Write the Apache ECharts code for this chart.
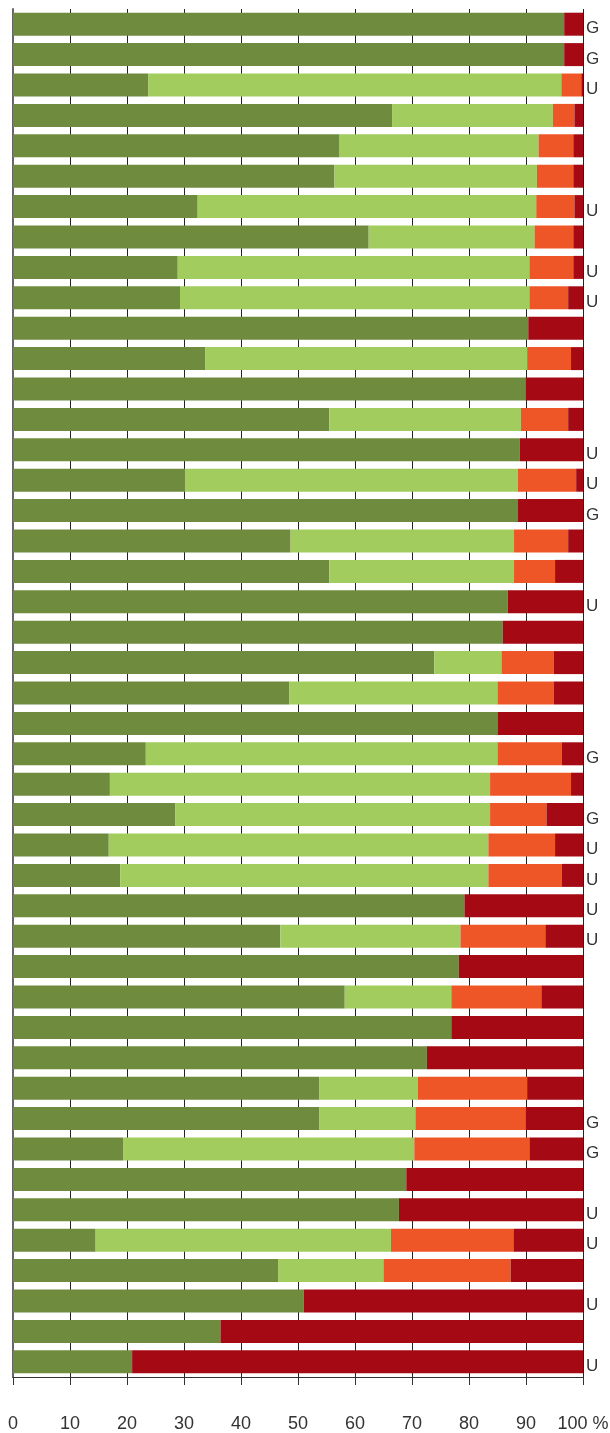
<!DOCTYPE html>
<html>
<head>
<meta charset="utf-8">
<script src="https://cdn.jsdelivr.net/npm/echarts@6/dist/echarts.min.js"></script>
<style>
html,body{margin:0;padding:0;background:#fff;}
#chart{width:610px;height:1433px;}
</style>
</head>
<body>
<div id="chart"></div>
<script>
var categories = ['1','2','3','4','5','6','7','8','9','10','11','12','13','14','15','16','17','18','19','20','21','22','23','24','25','26','27','28','29','30','31','32','33','34','35','36','37','38','39','40','41','42','43','44','45'];
var flags = ['G','G','U','','','','U','','U','U','','','','','U','U','G','','','U','','','','','G','','G','U','U','U','U','','','','','','G','G','','U','U','','U','','U'];
var seriesDarkGreen  = [96.7,96.7,23.7,66.5,57.3,56.4,32.4,62.4,28.9,29.3,90.4,33.7,89.9,55.5,88.9,30.1,88.6,48.7,55.5,86.8,85.9,73.9,48.5,85.0,23.3,17.0,28.5,16.8,18.8,79.2,46.9,78.2,58.2,76.9,72.6,53.7,53.7,19.3,69.0,67.7,14.5,46.5,51.0,36.4,20.9];
var seriesLightGreen = [0,0,72.5,28.2,34.9,35.5,59.4,29.1,61.7,61.3,0,56.5,0,33.6,0,58.5,0,39.2,32.4,0,0,11.8,36.5,0,61.7,66.7,55.2,66.6,64.6,0,31.6,0,18.7,0,0,17.3,16.9,51.1,0,0,51.8,18.5,0,0,0];
var seriesOrange     = [0,0,3.5,3.8,6.1,6.4,6.7,6.8,7.7,6.8,0,7.7,0,8.3,0,10.2,0,9.5,7.2,0,0,9.2,9.9,0,11.3,14.2,9.9,11.7,12.9,0,14.9,0,15.8,0,0,19.2,19.3,20.2,0,0,21.5,22.3,0,0,0];
var seriesDarkRed    = [3.3,3.3,0.3,1.5,1.7,1.7,1.5,1.7,1.7,2.6,9.6,2.1,10.1,2.6,11.1,1.2,11.4,2.6,4.9,13.2,14.1,5.1,5.1,15.0,3.7,2.1,6.4,4.9,3.7,20.8,6.6,21.8,7.3,23.1,27.4,9.8,10.1,9.4,31.0,32.3,12.2,12.7,49.0,63.6,79.1];
var xTicks = [0,10,20,30,40,50,60,70,80,90,100];

var colors = ['#6f8b3d','#a3cc5f','#ee5627','#a40914'];
var chart = echarts.init(document.getElementById('chart'), null, {renderer:'canvas'});
function mk(name, data, color){
  return {name:name, type:'bar', stack:'total', data:data, barWidth:23,
    itemStyle:{color:color}, emphasis:{disabled:true}, silent:true, animation:false};
}
chart.setOption({
  animation:false,
  grid:{left:13, right:27, top:9, bottom:56, containLabel:false, outerBoundsMode:'none'},
  xAxis:{type:'value', min:0, max:100, interval:10,
    axisLine:{show:true, lineStyle:{color:'#333', width:1}},
    axisTick:{show:true, length:8, lineStyle:{color:'#333'}},
    splitLine:{show:true, lineStyle:{color:'#222', width:1}},
    axisLabel:{margin:38, fontSize:18, color:'#333', fontFamily:'Liberation Sans',
      showMinLabel:true, showMaxLabel:true,
      formatter:function(v){ var i = xTicks.indexOf(v); var t = i>=0 ? String(xTicks[i]) : String(v); return v===100 ? t+' %' : t; }}
  },
  yAxis:[
    {type:'category', data:categories, inverse:true,
      axisLine:{show:true, lineStyle:{color:'#666', width:2}},
      axisTick:{show:false}, axisLabel:{show:false}, splitLine:{show:false}},
    {type:'category', data:categories, inverse:true, position:'right',
      axisLine:{show:false}, axisTick:{show:false}, splitLine:{show:false},
      axisLabel:{show:true, interval:0, margin:3, fontSize:17, color:'#333', fontFamily:'Liberation Sans',
        verticalAlign:'top', lineHeight:9,
        formatter:function(v, i){ return flags[i] || ''; }}}
  ],
  series:[
    mk('s1', seriesDarkGreen, colors[0]),
    mk('s2', seriesLightGreen, colors[1]),
    mk('s3', seriesOrange, colors[2]),
    mk('s4', seriesDarkRed, colors[3])
  ]
});
</script>
</body>
</html>
